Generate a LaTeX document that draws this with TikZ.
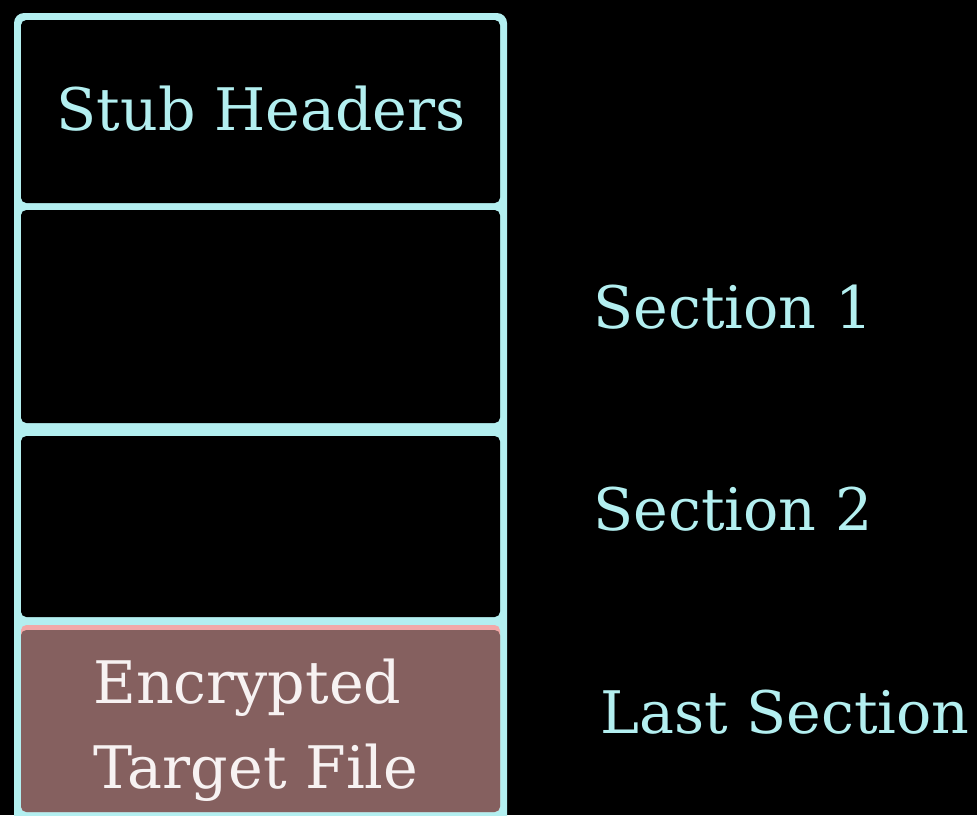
\documentclass[tikz,border=0pt]{standalone}
\usepackage{fontspec}
\setmainfont{DejaVu Serif}
\definecolor{frame}{HTML}{B3EFF0}
\definecolor{cryptfill}{HTML}{85605F}
\definecolor{cryptedge}{HTML}{F2A9A8}
\definecolor{crypttext}{HTML}{F7F2F2}
\tikzset{
  cell/.style={rounded corners=4pt},
  lbl/.style={text=frame, inner sep=0pt, font=\fontsize{44}{52}\selectfont},
  celllbl/.style={inner sep=0pt, font=\fontsize{44}{52}\selectfont}
}
\begin{document}
\begin{tikzpicture}[x=0.75pt,y=-0.75pt]
  % page background
  \fill[black] (0,0) rectangle (977,815);
  \useasboundingbox (0,0) rectangle (977,815);
  % outer frame of the file layout
  \fill[frame, rounded corners=7.5pt] (14,13) rectangle (507,840);
  % stacked cells
  \fill[black, cell] (21,20) rectangle (500,203);
  \fill[black, cell] (21,210) rectangle (500,423);
  \fill[black, cell] (21,436) rectangle (500,617);
  \fill[cryptedge, cell] (21,625) rectangle (500,812);
  \fill[cryptfill, cell] (21,630) rectangle (500,812);
  % labels
  \node[celllbl, text=frame, anchor=base] (stub) at (261,130) {Stub Headers};
  \node[celllbl, text=crypttext, anchor=base west] (enc) at (93,703) {Encrypted};
  \node[celllbl, text=crypttext, anchor=base west] (tgt) at (93,788) {Target File};
  \node[lbl, anchor=base west] (s1) at (593,328) {Section 1};
  \node[lbl, anchor=base west] (s2) at (593,530) {Section 2};
  \node[lbl, anchor=base west] (last) at (600,733) {Last Section};
\end{tikzpicture}
\end{document}
